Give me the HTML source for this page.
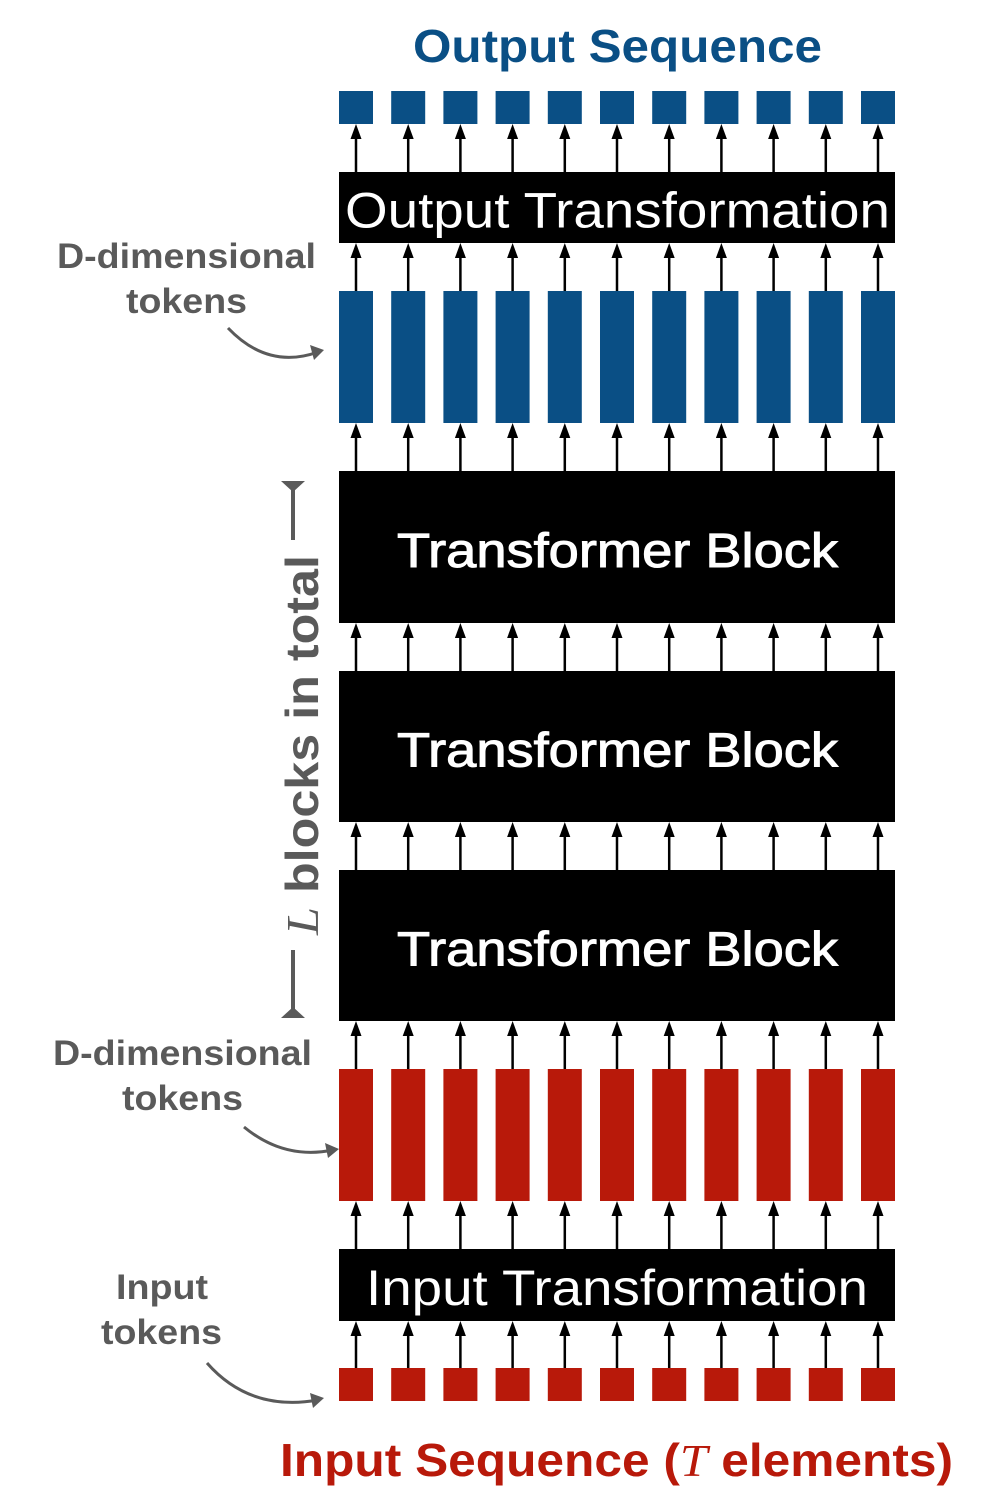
<!DOCTYPE html>
<html><head><meta charset="utf-8"><style>
html,body{margin:0;padding:0;background:#fff;}
svg{display:block;font-family:"Liberation Sans",sans-serif;}
</style></head><body>
<svg id="s" width="1000" height="1512" viewBox="0 0 1000 1512" xmlns="http://www.w3.org/2000/svg">
<text x="413" y="62" textLength="409" lengthAdjust="spacingAndGlyphs" font-size="46" font-weight="bold" fill="#0a4f85">Output Sequence</text>
<text x="280" y="1476" textLength="673" lengthAdjust="spacingAndGlyphs" font-size="46" font-weight="bold" fill="#b8190a">Input Sequence (<tspan font-family="Liberation Serif" font-style="italic" font-weight="normal">T</tspan> elements)</text>
<g fill="#5a5a5a" font-weight="bold" font-size="35">
<text x="57" y="268" textLength="259" lengthAdjust="spacingAndGlyphs">D-dimensional</text>
<text x="126" y="313" textLength="121" lengthAdjust="spacingAndGlyphs">tokens</text>
<text x="53" y="1065" textLength="259" lengthAdjust="spacingAndGlyphs">D-dimensional</text>
<text x="122" y="1110" textLength="121" lengthAdjust="spacingAndGlyphs">tokens</text>
<text x="116" y="1299" textLength="92" lengthAdjust="spacingAndGlyphs">Input</text>
<text x="101" y="1344" textLength="121" lengthAdjust="spacingAndGlyphs">tokens</text>
</g>
<g stroke="#5a5a5a" stroke-width="3" fill="none">
<path d="M228,328 Q268,370 318,352"/>
<path d="M244,1127 Q284,1160 333,1150"/>
<path d="M207,1363 Q250,1412 318,1400"/>
<path d="M293,483 V540 M293,950 V1016" stroke-width="4"/>
</g>
<g fill="#5a5a5a">
<path d="M324,350 L310,345 L314,360 Z"/>
<path d="M339,1149 L325,1143 L328,1158 Z"/>
<path d="M324,1398 L310,1393 L313,1408 Z"/>
<path d="M281,481 H305 L293,492 Z M281,1018 H305 L293,1007 Z"/>
</g>
<text transform="translate(318,935) rotate(-90)" textLength="380" lengthAdjust="spacingAndGlyphs" font-size="46" font-weight="bold" fill="#5a5a5a"><tspan font-family="Liberation Serif" font-style="italic" font-weight="normal">L</tspan> blocks in total</text>
<g id="g"></g>
</svg>
<script>
const nTokens = 11;
const blocks = [
 {name:'output-transformation', y0:172, y1:243, label:'Output Transformation', x:345, len:545, fs:50, sw:0, dy:20},
 {name:'transformer-block-1', y0:471, y1:623, label:'Transformer Block', x:397, len:441, fs:48, sw:1, dy:20},
 {name:'transformer-block-2', y0:671, y1:822, label:'Transformer Block', x:397, len:441, fs:48, sw:1, dy:20},
 {name:'transformer-block-3', y0:870, y1:1021, label:'Transformer Block', x:397, len:441, fs:48, sw:1, dy:20},
 {name:'input-transformation', y0:1249, y1:1321, label:'Input Transformation', x:366, len:502, fs:50, sw:0, dy:20}
];
const tokenRows = [
 {name:'output-token', y0:91, y1:124, color:'#0a4f85'},
 {name:'d-token-blue', y0:291, y1:423, color:'#0a4f85'},
 {name:'d-token-red', y0:1069, y1:1201, color:'#b8190a'},
 {name:'input-token', y0:1368, y1:1401, color:'#b8190a'}
];
const arrowGaps = [[124,172],[243,291],[423,471],[623,671],[822,870],[1021,1069],[1201,1249],[1321,1368]];
const NS='http://www.w3.org/2000/svg', g=document.getElementById('g');
const x0=339, pitch=52.2, w=34;
function mk(t,a){const e=document.createElementNS(NS,t);for(const k in a)e.setAttribute(k,a[k]);g.appendChild(e);return e;}
arrowGaps.forEach((gp,r)=>{for(let i=0;i<nTokens;i++){const cx=x0+w/2+i*pitch;
 const l=mk('line',{x1:cx,y1:gp[1],x2:cx,y2:gp[0]+8,stroke:'#000','stroke-width':2.5});
 
 
 const p=mk('path',{d:`M${cx-5.5},${gp[0]+15} L${cx},${gp[0]} L${cx+5.5},${gp[0]+15} Z`,fill:'#000'});
 
 
}});
tokenRows.forEach(r=>{for(let i=0;i<nTokens;i++){
 const e=mk('rect',{x:x0+i*pitch,y:r.y0,width:w,height:r.y1-r.y0,fill:r.color});
 
 
}});
blocks.forEach(b=>{
 const e=mk('rect',{x:x0,y:b.y0,width:556,height:b.y1-b.y0,fill:'#000'});
 
 
 const t=mk('text',{x:b.x,y:(b.y0+b.y1)/2+b.dy,textLength:b.len,lengthAdjust:'spacingAndGlyphs','font-size':b.fs,fill:'#fff',stroke:'#fff','stroke-width':b.sw});
 t.textContent=b.label;
 
 
});
</script>
</body></html>
